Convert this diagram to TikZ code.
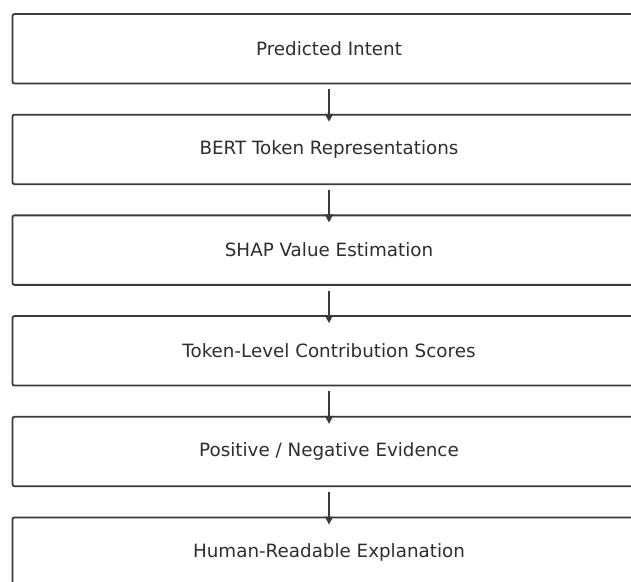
\documentclass[tikz,border=0pt]{standalone}
\usepackage{fontspec}
\setmainfont{DejaVu Sans}
\usetikzlibrary{arrows.meta}
\definecolor{linecol}{HTML}{3A3A3A}
\definecolor{textcol}{HTML}{2E2E2E}
\tikzset{
  stagebox/.style={draw=linecol, line width=1.8pt, rounded corners=2pt, fill=white,
    minimum width=633pt, minimum height=69.5pt, inner sep=0pt,
    font=\fontsize{18.3pt}{22pt}\selectfont, text=textcol},
  flowarrow/.style={draw=linecol, line width=1.6pt, -{Triangle[length=8pt,width=8pt]}}
}
\begin{document}
\begin{tikzpicture}[x=1pt,y=-1pt]
\useasboundingbox (0,0) rectangle (631,581);
\clip (0,0) rectangle (631,581);
\fill[white] (0,0) rectangle (631,581);
\node[stagebox] (b1) at (329, 48.75) {Predicted Intent};
\node[stagebox] (b2) at (329, 149.4) {BERT Token Representations};
\node[stagebox] (b3) at (329, 250.1) {SHAP Value Estimation};
\node[stagebox] (b4) at (329, 350.8) {Token-Level Contribution Scores};
\node[stagebox] (b5) at (329, 451.5) {Positive / Negative Evidence};
\node[stagebox] (b6) at (329, 552.2) {Human-Readable Explanation};
\foreach \a/\b in {b1/b2,b2/b3,b3/b4,b4/b5,b5/b6}
  \draw[flowarrow] ([yshift=-5pt]\a.south) -- ([yshift=-8pt]\b.north);
\end{tikzpicture}
\end{document}
